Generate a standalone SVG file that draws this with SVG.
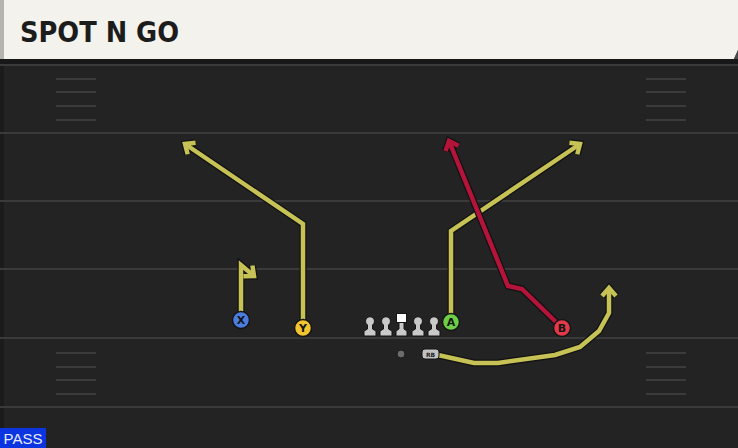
<svg xmlns="http://www.w3.org/2000/svg" width="738" height="448" viewBox="0 0 738 448">
<defs>
<style>
.yard{stroke:#3a3a3a;stroke-width:2}
.hash{stroke:#3b3b3b;stroke-width:2}
.out{fill:none;stroke:#121212;stroke-width:7;stroke-linejoin:miter;stroke-linecap:butt}
.yl{fill:none;stroke:#c6c255;stroke-width:4.5;stroke-linejoin:miter}
.rd{fill:none;stroke:#b5143a;stroke-width:4.5;stroke-linejoin:miter}
.lbl{font-family:"DejaVu Sans",sans-serif;font-weight:bold;font-size:11px;fill:#151515;text-anchor:middle}
.pc{stroke:#151515;stroke-width:1.5}
.lm{fill:#c9c9c9;stroke:#151515;stroke-width:1}
</style>
<marker id="ahO" markerUnits="userSpaceOnUse" markerWidth="30" markerHeight="30" refX="0" refY="0" orient="auto" overflow="visible" viewBox="-15 -15 30 30">
<path d="M-8,-7 L0,0 L-8,7" fill="none" stroke="#121212" stroke-width="7" stroke-linejoin="miter"/>
</marker>
<marker id="ahY" markerUnits="userSpaceOnUse" markerWidth="30" markerHeight="30" refX="0" refY="0" orient="auto" overflow="visible" viewBox="-15 -15 30 30">
<path d="M-8,-7 L0,0 L-8,7" fill="none" stroke="#c6c255" stroke-width="4.5" stroke-linejoin="miter"/>
</marker>
<marker id="ahR" markerUnits="userSpaceOnUse" markerWidth="30" markerHeight="30" refX="0" refY="0" orient="auto" overflow="visible" viewBox="-15 -15 30 30">
<path d="M-8,-7 L0,0 L-8,7" fill="none" stroke="#b5143a" stroke-width="4.5" stroke-linejoin="miter"/>
</marker>
</defs>
<rect x="0" y="0" width="738" height="448" fill="#232323"/>
<rect x="0" y="60" width="4" height="388" fill="#1b1b1b"/>
<g id="field">
<line class="yard" x1="0" y1="65" x2="738" y2="65"/>
<line class="yard" x1="0" y1="133" x2="738" y2="133"/>
<line class="yard" x1="0" y1="201" x2="738" y2="201"/>
<line class="yard" x1="0" y1="269" x2="738" y2="269"/>
<line class="yard" x1="0" y1="338" x2="738" y2="338"/>
<line class="yard" x1="0" y1="407" x2="738" y2="407"/>
<g class="hash">
<line x1="56" y1="79" x2="96" y2="79"/><line x1="56" y1="92" x2="96" y2="92"/><line x1="56" y1="106" x2="96" y2="106"/><line x1="56" y1="120" x2="96" y2="120"/>
<line x1="646" y1="79" x2="686" y2="79"/><line x1="646" y1="92" x2="686" y2="92"/><line x1="646" y1="106" x2="686" y2="106"/><line x1="646" y1="120" x2="686" y2="120"/>
<line x1="56" y1="353" x2="96" y2="353"/><line x1="56" y1="367" x2="96" y2="367"/><line x1="56" y1="380" x2="96" y2="380"/><line x1="56" y1="394" x2="96" y2="394"/>
<line x1="646" y1="353" x2="686" y2="353"/><line x1="646" y1="367" x2="686" y2="367"/><line x1="646" y1="380" x2="686" y2="380"/><line x1="646" y1="394" x2="686" y2="394"/>
</g>
</g>
<g id="header">
<rect x="0" y="59" width="738" height="5" fill="#181818"/>
<polygon points="0,0 738,0 738,50 734,59 0,59" fill="#f4f2ec"/>
<rect x="0" y="0" width="4" height="59" fill="#b4b4b0"/>
<polygon points="738,50 734,59 738,59" fill="#4a4a4a"/>
<text x="20" y="42" font-family="'DejaVu Sans Condensed','DejaVu Sans',sans-serif" font-weight="bold" font-size="28" fill="#1c1c1c" textLength="159" lengthAdjust="spacingAndGlyphs">SPOT N GO</text>
</g>
<g id="connectors">
<path class="out" d="M241,312 L241,265 L254,276" marker-end="url(#ahO)"/>
<path class="yl" d="M241,312 L241,265 L254,276" marker-end="url(#ahY)"/>
<path class="out" d="M303,320 L303,224 L185,144" marker-end="url(#ahO)"/>
<path class="yl" d="M303,320 L303,224 L185,144" marker-end="url(#ahY)"/>
<path class="out" d="M451,314 L451,231 L580,144" marker-end="url(#ahO)"/>
<path class="yl" d="M451,314 L451,231 L580,144" marker-end="url(#ahY)"/>
<path class="out" d="M556,322 L522,289 L508,286 L449,141" marker-end="url(#ahO)"/>
<path class="rd" d="M556,322 L522,289 L508,286 L449,141" marker-end="url(#ahR)"/>
<path class="out" d="M438,355 L474,363 L498,363 L555,355 L580,347 L599,331 L609,313 L609,288" marker-end="url(#ahO)"/>
<path class="yl" d="M438,355 L474,363 L498,363 L555,355 L580,347 L599,331 L609,313 L609,288" marker-end="url(#ahY)"/>
</g>
<g id="X"><circle class="pc" cx="241" cy="320" r="8.5" fill="#4b7de0"/><text class="lbl" x="241" y="324">X</text></g>
<g id="Y"><circle class="pc" cx="303" cy="328" r="8.5" fill="#f2c42e"/><text class="lbl" x="303" y="332">Y</text></g>
<g id="A"><circle class="pc" cx="451" cy="322" r="8.5" fill="#6ccf45"/><text class="lbl" x="451" y="326">A</text></g>
<g id="B"><circle class="pc" cx="562" cy="328" r="8.5" fill="#e23a48"/><text class="lbl" x="562" y="332">B</text></g>
<g id="OL1"><path class="lm" d="M364,336 L364,331 L367.5,329 L367.5,325 A4.5,4.5 0 1 1 372.5,325 L372.5,329 L376,331 L376,336 Z"/></g>
<g id="OL2"><path class="lm" d="M380,336 L380,331 L383.5,329 L383.5,325 A4.5,4.5 0 1 1 388.5,325 L388.5,329 L392,331 L392,336 Z"/></g>
<g id="C"><path class="lm" d="M396,336 L396,331 L399,329 L399,322 L404,322 L404,329 L407,331 L407,336 Z"/><rect x="396.5" y="313.5" width="10" height="9" fill="#ffffff" stroke="#151515" stroke-width="1"/></g>
<g id="OL4"><path class="lm" d="M412,336 L412,331 L415.5,329 L415.5,325 A4.5,4.5 0 1 1 420.5,325 L420.5,329 L424,331 L424,336 Z"/></g>
<g id="OL5"><path class="lm" d="M428,336 L428,331 L431.5,329 L431.5,325 A4.5,4.5 0 1 1 436.5,325 L436.5,329 L440,331 L440,336 Z"/></g>
<g id="QB"><circle cx="401" cy="354" r="4" fill="#6c6c6c" stroke="#1a1a1a" stroke-width="1"/></g>
<g id="RB"><rect x="422" y="349" width="17" height="10" rx="3" fill="#c2c2c2" stroke="#151515" stroke-width="1"/><text x="430.5" y="356.5" font-family="'DejaVu Sans',sans-serif" font-weight="bold" font-size="6" fill="#222" text-anchor="middle">RB</text></g>
<g id="pass"><rect x="0" y="428" width="46" height="20" fill="#0b35e0"/><text x="23" y="444" font-family="'Liberation Sans',sans-serif" font-size="15" fill="#e8ecff" text-anchor="middle">PASS</text></g>
</svg>
